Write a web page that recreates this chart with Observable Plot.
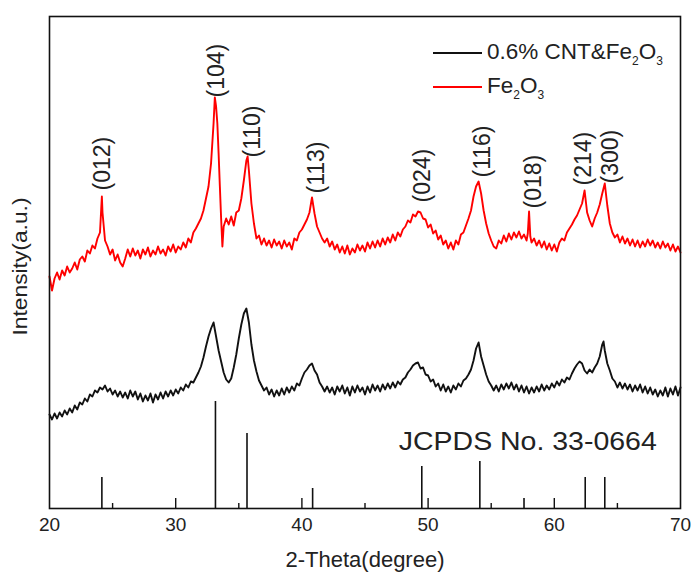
<!DOCTYPE html>
<html><head><meta charset="utf-8">
<script src="https://cdn.jsdelivr.net/npm/d3@7"></script>
<script src="https://cdn.jsdelivr.net/npm/@observablehq/plot@0.6"></script>
<style>
body{margin:0;background:#fff;}
#wrap{position:relative;width:694px;height:577px;}
#legend{position:absolute;left:433px;top:36px;font-family:"Liberation Sans",Arial,sans-serif;font-size:22.5px;color:#222;}
.row{display:flex;align-items:center;height:34px;white-space:nowrap;}
.sw{width:49px;height:2px;margin-right:5px;}
.row sub{font-size:12px;vertical-align:-6px;}
</style></head><body><div id="wrap"></div>
<script>
// 2-Theta tick values
const xTicks = [20, 30, 40, 50, 60, 70];
const majorTicks = [30, 40, 50, 60];
const minorTicks = [25, 35, 45, 55, 65];

// Fe2O3 pattern (red): [2-theta, intensity a.u.]
const fe2o3 = [
[20.0,232],[20.2,218],[20.4,230],[20.6,236],[20.8,229],[21.0,238],[21.2,233],[21.4,242],[21.6,236],[21.8,240],
[22.0,246],[22.2,239],[22.4,249],[22.6,252],[22.8,247],[23.0,258],[23.2,255],[23.4,263],[23.6,260],[23.8,270],
[24.0,276],[24.1,300],[24.15,312],[24.2,296],[24.4,268],[24.6,262],[24.8,254],[25.0,259],[25.2,248],[25.4,254],
[25.6,246],[25.8,242],[26.0,250],[26.2,259],[26.4,252],[26.6,260],[26.8,253],[27.0,258],[27.2,250],[27.4,259],
[27.6,254],[27.8,261],[28.0,252],[28.2,258],[28.4,254],[28.6,262],[28.8,255],[29.0,259],[29.2,253],[29.4,262],
[29.6,257],[29.8,264],[30.0,256],[30.2,262],[30.4,259],[30.6,266],[30.8,261],[31.0,270],[31.2,266],[31.4,276],
[31.6,280],[31.8,285],[32.0,290],[32.2,298],[32.4,310],[32.6,322],[32.8,345],[33.0,385],[33.1,411],[33.2,402],
[33.3,385],[33.4,355],[33.5,322],[33.6,290],[33.7,262],[33.8,282],[34.0,290],[34.2,284],[34.4,292],[34.6,283],
[34.8,296],[35.0,298],[35.2,310],[35.4,328],[35.6,348],[35.7,352],[35.8,338],[36.0,305],[36.2,285],[36.4,270],
[36.6,273],[36.8,264],[37.0,270],[37.2,263],[37.4,268],[37.6,261],[37.8,269],[38.0,263],[38.2,267],[38.4,260],
[38.6,268],[38.8,262],[39.0,266],[39.2,259],[39.4,270],[39.6,268],[39.8,276],[40.0,279],[40.2,284],[40.4,289],
[40.6,296],[40.8,311],[41.0,295],[41.2,282],[41.4,276],[41.6,270],[41.8,266],[42.0,270],[42.2,262],[42.4,267],
[42.6,259],[42.8,264],[43.0,256],[43.2,262],[43.4,255],[43.6,263],[43.8,254],[44.0,260],[44.2,256],[44.4,264],
[44.6,258],[44.8,263],[45.0,257],[45.2,266],[45.4,260],[45.6,267],[45.8,261],[46.0,268],[46.2,262],[46.4,270],
[46.6,264],[46.8,271],[47.0,266],[47.2,274],[47.4,268],[47.6,276],[47.8,272],[48.0,279],[48.2,282],[48.4,288],
[48.6,286],[48.8,294],[49.0,292],[49.2,297],[49.4,296],[49.6,290],[49.8,289],[50.0,281],[50.2,284],[50.4,275],
[50.6,278],[50.8,269],[51.0,273],[51.2,264],[51.4,268],[51.6,260],[51.8,266],[52.0,259],[52.2,268],[52.4,264],
[52.6,274],[52.8,276],[53.0,283],[53.2,290],[53.4,298],[53.6,312],[53.8,322],[54.0,327],[54.2,315],[54.4,298],
[54.6,285],[54.8,275],[55.0,268],[55.2,262],[55.4,260],[55.6,268],[55.8,265],[56.0,273],[56.2,267],[56.4,275],
[56.6,269],[56.8,276],[57.0,271],[57.2,277],[57.4,270],[57.6,274],[57.8,268],[57.9,275],[58.0,297],[58.1,272],
[58.2,266],[58.4,270],[58.6,263],[58.8,268],[59.0,261],[59.2,267],[59.4,259],[59.6,265],[59.8,258],[60.0,264],
[60.2,257],[60.4,266],[60.6,270],[60.8,268],[61.0,276],[61.2,280],[61.4,284],[61.6,289],[61.8,293],[62.0,299],
[62.2,305],[62.4,318],[62.6,296],[62.8,288],[63.0,282],[63.2,290],[63.4,296],[63.6,304],[63.8,315],[64.0,325],
[64.2,303],[64.4,285],[64.6,276],[64.8,271],[65.0,274],[65.2,266],[65.4,272],[65.6,265],[65.8,270],[66.0,263],
[66.2,269],[66.4,262],[66.6,268],[66.8,261],[67.0,267],[67.2,262],[67.4,269],[67.6,263],[67.8,268],[68.0,261],
[68.2,266],[68.4,260],[68.6,267],[68.8,261],[69.0,265],[69.2,258],[69.4,264],[69.6,257],[69.8,262],[70.0,256]
];

// 0.6% CNT&Fe2O3 pattern (black)
const cntFe2o3 = [
[20.0,94],[20.2,89],[20.4,95],[20.6,90],[20.8,96],[21.0,92],[21.2,98],[21.4,94],[21.6,100],[21.8,96],
[22.0,103],[22.2,99],[22.4,106],[22.6,104],[22.8,110],[23.0,107],[23.2,114],[23.4,112],[23.6,118],[23.8,116],
[24.0,121],[24.2,119],[24.4,123],[24.6,117],[24.8,120],[25.0,114],[25.2,118],[25.4,112],[25.6,117],[25.8,111],
[26.0,116],[26.2,110],[26.4,118],[26.6,112],[26.8,117],[27.0,109],[27.2,115],[27.4,107],[27.6,113],[27.8,108],
[28.0,115],[28.2,106],[28.4,114],[28.6,109],[28.8,116],[29.0,110],[29.2,117],[29.4,112],[29.6,118],[29.8,113],
[30.0,119],[30.2,115],[30.4,121],[30.6,118],[30.8,124],[31.0,121],[31.2,127],[31.4,126],[31.6,131],[31.8,136],
[32.0,142],[32.2,151],[32.4,162],[32.6,172],[32.8,180],[33.0,186],[33.2,172],[33.4,158],[33.6,147],[33.8,136],
[34.0,129],[34.2,126],[34.4,130],[34.6,141],[34.8,154],[35.0,170],[35.2,184],[35.4,195],[35.6,200],[35.8,186],
[36.0,164],[36.2,148],[36.4,137],[36.6,128],[36.8,123],[37.0,118],[37.2,121],[37.4,114],[37.6,119],[37.8,112],
[38.0,118],[38.2,113],[38.4,120],[38.6,114],[38.8,121],[39.0,116],[39.2,122],[39.4,118],[39.6,125],[39.8,123],
[40.0,130],[40.2,136],[40.4,139],[40.6,143],[40.8,145],[41.0,138],[41.2,134],[41.4,126],[41.6,122],[41.8,117],
[42.0,122],[42.2,116],[42.4,121],[42.6,114],[42.8,122],[43.0,117],[43.2,123],[43.4,115],[43.6,121],[43.8,113],
[44.0,122],[44.2,116],[44.4,123],[44.6,117],[44.8,121],[45.0,114],[45.2,122],[45.4,116],[45.6,124],[45.8,118],
[46.0,123],[46.2,117],[46.4,124],[46.6,119],[46.8,125],[47.0,120],[47.2,126],[47.4,121],[47.6,127],[47.8,124],
[48.0,129],[48.2,131],[48.4,136],[48.6,139],[48.8,143],[49.0,145],[49.2,146],[49.4,140],[49.6,141],[49.8,134],
[50.0,133],[50.2,127],[50.4,129],[50.6,122],[50.8,125],[51.0,118],[51.2,124],[51.4,117],[51.6,122],[51.8,116],
[52.0,123],[52.2,119],[52.4,125],[52.6,122],[52.8,128],[53.0,130],[53.2,134],[53.4,139],[53.6,148],[53.8,160],
[54.0,166],[54.2,152],[54.4,143],[54.6,134],[54.8,127],[55.0,123],[55.2,118],[55.4,123],[55.6,117],[55.8,124],
[56.0,119],[56.2,125],[56.4,120],[56.6,126],[56.8,119],[57.0,124],[57.2,117],[57.4,123],[57.6,116],[57.8,122],
[58.0,115],[58.2,121],[58.4,116],[58.6,122],[58.8,117],[59.0,124],[59.2,118],[59.4,123],[59.6,119],[59.8,125],
[60.0,121],[60.2,127],[60.4,123],[60.6,129],[60.8,126],[61.0,131],[61.2,129],[61.4,135],[61.6,140],[61.8,144],
[62.0,147],[62.2,145],[62.4,138],[62.6,135],[62.8,139],[63.0,136],[63.2,141],[63.4,145],[63.6,152],[63.8,164],
[63.9,167],[64.0,158],[64.2,145],[64.4,138],[64.6,130],[64.8,127],[65.0,121],[65.2,126],[65.4,120],[65.6,125],
[65.8,119],[66.0,124],[66.2,117],[66.4,123],[66.6,118],[66.8,124],[67.0,116],[67.2,122],[67.4,115],[67.6,121],
[67.8,114],[68.0,119],[68.2,112],[68.4,118],[68.6,113],[68.8,121],[69.0,112],[69.2,120],[69.4,114],[69.6,122],
[69.8,113],[70.0,121]
];

// JCPDS No. 33-0664 reference lines
const refTheta = [24.15, 33.15, 35.65, 40.85, 49.5, 54.1, 57.6, 62.45, 64.0];
const refIntensity = [31, 107, 75, 20, 42, 47, 10, 31, 31];

// Miller index labels
const hklText  = ["(012)", "(104)", "(110)", "(113)", "(024)", "(116)", "(018)", "(214)", "(300)"];
const hklTheta = [24.2, 33.27, 36.06, 41.2, 49.53, 54.29, 58.38, 62.34, 64.45];
const hklBase  = [318, 411, 351, 315, 306, 331, 300, 323, 325];

const refCardText = "JCPDS No. 33-0664";
const seriesNames = ["0.6% CNT&Fe<sub>2</sub>O<sub>3</sub>", "Fe<sub>2</sub>O<sub>3</sub>"];
const seriesColors = ["#111111", "#ff0000"];

const refData = refTheta.map((t, i) => ({t, i: refIntensity[i]}));
const hklData = hklText.map((s, i) => ({s, t: hklTheta[i], h: hklBase[i]}));
const font = '"Liberation Sans", Arial, sans-serif';

const chart = Plot.plot({
  width: 694, height: 577,
  marginLeft: 49, marginRight: 14, marginTop: 16, marginBottom: 69,
  style: {background: "#fff", fontFamily: font},
  x: {domain: [20, 70]},
  y: {domain: [0, 492], axis: null},
  marks: [
    Plot.line(cntFe2o3, {x: d => d[0], y: d => d[1], stroke: seriesColors[0], strokeWidth: 1.9}),
    Plot.line(fe2o3, {x: d => d[0], y: d => d[1], stroke: seriesColors[1], strokeWidth: 1.9}),
    Plot.ruleX(refData, {x: "t", y1: 0, y2: "i", stroke: "#111", strokeWidth: 1.6}),
    Plot.ruleX(majorTicks, {x: d => d, insetTop: 482, stroke: "#111", strokeWidth: 1.4}),
    Plot.ruleX(minorTicks, {x: d => d, insetTop: 487, stroke: "#111", strokeWidth: 1.4}),
    Plot.text(hklData, {x: "t", y: "h", text: "s", rotate: -90, textAnchor: "start", fontSize: 23, fill: "#222", fontFamily: font}),
    Plot.text([refCardText], {x: [57.9], y: [67], fontSize: 25, fill: "#222", fontFamily: font}),
    Plot.text(["Intensity(a.u.)"], {frameAnchor: "left", textAnchor: "middle", rotate: -90, dx: -29, dy: 4, fontSize: 21, fill: "#222", fontFamily: font}),
    Plot.axisX({ticks: xTicks, tickSize: 0, tickPadding: 9, fontSize: 19, fill: "#222", label: "2-Theta(degree)", labelAnchor: "center", labelOffset: 58, labelArrow: false}),
    Plot.frame({stroke: "#111", strokeWidth: 1.6})
  ]
});
// widen the reference-card caption to the measured width
d3.select(chart).selectAll("text").filter(function () { return this.textContent === refCardText; })
  .attr("textLength", 258).attr("lengthAdjust", "spacingAndGlyphs");
d3.select(chart).selectAll("text").filter(function () { return this.textContent === "Intensity(a.u.)"; })
  .attr("textLength", 138).attr("lengthAdjust", "spacingAndGlyphs");
d3.select(chart).selectAll("[aria-label='x-axis label'] text").style("font-size", "22px");
const wrap = document.getElementById("wrap");
wrap.appendChild(chart);
const legend = document.createElement("div");
legend.id = "legend";
legend.innerHTML = seriesNames.map((n, i) =>
  `<div class="row"><span class="sw" style="background:${seriesColors[i]}"></span><span>${n}</span></div>`).join("");
wrap.appendChild(legend);
</script>
</body></html>
